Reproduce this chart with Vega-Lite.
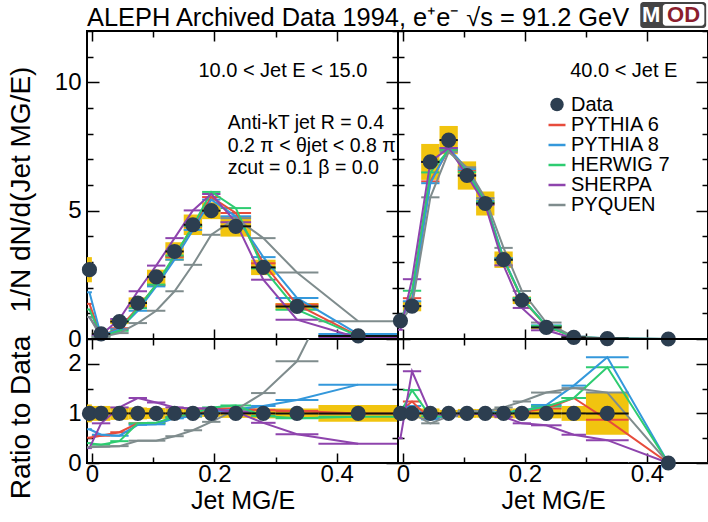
{
"$schema": "https://vega.github.io/schema/vega-lite/v6.json",
"padding": {"left": 6, "top": 0, "right": 0, "bottom": 0},
"config": {
  "view": {"stroke": "black", "strokeWidth": 2},
  "font": "Liberation Sans",
  "axis": {"labelFont": "Liberation Sans", "labelFontSize": 24, "labelColor": "black", "titleFont": "Liberation Sans", "titleFontSize": 28, "titleFontWeight": "normal", "titleColor": "black", "tickColor": "black", "tickWidth": 1.5, "domain": false, "grid": false, "labelOverlap": false, "labelFlush": false, "format": "~g"},
  "legend": {"labelFont": "Liberation Sans", "labelColor": "black"}
},
"datasets": {
  "TL": [
    {"x": -0.004, "lo": -0.008, "hi": 0, "y": 2.70, "ylo": 2.21, "yhi": 3.19, "PYTHIA 6": 1.37, "PYTHIA 8": 1.82, "HERWIG 7": 1.15, "SHERPA": 0.85, "PYQUEN": 0.86},
    {"x": 0.015, "lo": 0, "hi": 0.03, "y": 0.20, "ylo": 0.16, "yhi": 0.24, "PYTHIA 6": 0.11, "PYTHIA 8": 0.12, "HERWIG 7": 0.08, "SHERPA": 0.16, "PYQUEN": 0.07},
    {"x": 0.045, "lo": 0.03, "hi": 0.06, "y": 0.68, "ylo": 0.58, "yhi": 0.78, "PYTHIA 6": 0.42, "PYTHIA 8": 0.38, "HERWIG 7": 0.32, "SHERPA": 0.78, "PYQUEN": 0.23},
    {"x": 0.075, "lo": 0.06, "hi": 0.09, "y": 1.40, "ylo": 1.18, "yhi": 1.62, "PYTHIA 6": 1.22, "PYTHIA 8": 1.10, "HERWIG 7": 1.20, "SHERPA": 1.86, "PYQUEN": 0.62},
    {"x": 0.105, "lo": 0.09, "hi": 0.12, "y": 2.42, "ylo": 2.14, "yhi": 2.70, "PYTHIA 6": 2.10, "PYTHIA 8": 2.05, "HERWIG 7": 2.12, "SHERPA": 2.86, "PYQUEN": 1.10},
    {"x": 0.135, "lo": 0.12, "hi": 0.15, "y": 3.41, "ylo": 3.05, "yhi": 3.77, "PYTHIA 6": 3.20, "PYTHIA 8": 3.09, "HERWIG 7": 3.25, "SHERPA": 3.93, "PYQUEN": 1.86},
    {"x": 0.165, "lo": 0.15, "hi": 0.18, "y": 4.45, "ylo": 4.05, "yhi": 4.85, "PYTHIA 6": 4.38, "PYTHIA 8": 4.25, "HERWIG 7": 4.40, "SHERPA": 5.01, "PYQUEN": 2.89},
    {"x": 0.195, "lo": 0.18, "hi": 0.21, "y": 5.00, "ylo": 4.67, "yhi": 5.33, "PYTHIA 6": 5.53, "PYTHIA 8": 5.43, "HERWIG 7": 5.73, "SHERPA": 5.65, "PYQUEN": 4.06},
    {"x": 0.235, "lo": 0.21, "hi": 0.26, "y": 4.39, "ylo": 3.99, "yhi": 4.79, "PYTHIA 6": 4.91, "PYTHIA 8": 4.78, "HERWIG 7": 5.10, "SHERPA": 4.55, "PYQUEN": 4.71},
    {"x": 0.28, "lo": 0.26, "hi": 0.30, "y": 2.79, "ylo": 2.49, "yhi": 3.09, "PYTHIA 6": 2.95, "PYTHIA 8": 3.19, "HERWIG 7": 2.75, "SHERPA": 2.31, "PYQUEN": 3.93},
    {"x": 0.335, "lo": 0.30, "hi": 0.37, "y": 1.27, "ylo": 1.14, "yhi": 1.40, "PYTHIA 6": 1.34, "PYTHIA 8": 1.60, "HERWIG 7": 1.14, "SHERPA": 0.75, "PYQUEN": 2.59},
    {"x": 0.435, "lo": 0.37, "hi": 0.50, "y": 0.12, "ylo": 0.09, "yhi": 0.15, "PYTHIA 6": 0.12, "PYTHIA 8": 0.19, "HERWIG 7": 0.11, "SHERPA": 0.05, "PYQUEN": 0.69}
  ],
  "BL": [
    {"x": -0.004, "lo": -0.008, "hi": 0, "y": 1, "ylo": 0.82, "yhi": 1.18, "PYTHIA 6": 0.51, "PYTHIA 8": 0.68, "HERWIG 7": 0.40, "SHERPA": 0.30, "PYQUEN": 0.32},
    {"x": 0.015, "lo": 0, "hi": 0.03, "y": 1, "ylo": 0.85, "yhi": 1.15, "PYTHIA 6": 0.55, "PYTHIA 8": 0.57, "HERWIG 7": 0.37, "SHERPA": 0.80, "PYQUEN": 0.33},
    {"x": 0.045, "lo": 0.03, "hi": 0.06, "y": 1, "ylo": 0.87, "yhi": 1.13, "PYTHIA 6": 0.62, "PYTHIA 8": 0.55, "HERWIG 7": 0.44, "SHERPA": 1.12, "PYQUEN": 0.34},
    {"x": 0.075, "lo": 0.06, "hi": 0.09, "y": 1, "ylo": 0.88, "yhi": 1.12, "PYTHIA 6": 0.80, "PYTHIA 8": 0.77, "HERWIG 7": 0.80, "SHERPA": 1.31, "PYQUEN": 0.45},
    {"x": 0.105, "lo": 0.09, "hi": 0.12, "y": 1, "ylo": 0.89, "yhi": 1.11, "PYTHIA 6": 0.80, "PYTHIA 8": 0.78, "HERWIG 7": 0.81, "SHERPA": 1.22, "PYQUEN": 0.45},
    {"x": 0.135, "lo": 0.12, "hi": 0.15, "y": 1, "ylo": 0.90, "yhi": 1.10, "PYTHIA 6": 0.92, "PYTHIA 8": 0.90, "HERWIG 7": 0.93, "SHERPA": 1.12, "PYQUEN": 0.54},
    {"x": 0.165, "lo": 0.15, "hi": 0.18, "y": 1, "ylo": 0.91, "yhi": 1.09, "PYTHIA 6": 0.98, "PYTHIA 8": 0.94, "HERWIG 7": 0.99, "SHERPA": 1.10, "PYQUEN": 0.66},
    {"x": 0.195, "lo": 0.18, "hi": 0.21, "y": 1, "ylo": 0.93, "yhi": 1.07, "PYTHIA 6": 1.08, "PYTHIA 8": 1.04, "HERWIG 7": 1.12, "SHERPA": 1.10, "PYQUEN": 0.83},
    {"x": 0.235, "lo": 0.21, "hi": 0.26, "y": 1, "ylo": 0.91, "yhi": 1.09, "PYTHIA 6": 1.10, "PYTHIA 8": 1.08, "HERWIG 7": 1.16, "SHERPA": 1.03, "PYQUEN": 1.07},
    {"x": 0.28, "lo": 0.26, "hi": 0.30, "y": 1, "ylo": 0.90, "yhi": 1.10, "PYTHIA 6": 1.07, "PYTHIA 8": 1.15, "HERWIG 7": 0.95, "SHERPA": 0.81, "PYQUEN": 1.41},
    {"x": 0.335, "lo": 0.30, "hi": 0.37, "y": 1, "ylo": 0.90, "yhi": 1.10, "PYTHIA 6": 1.05, "PYTHIA 8": 1.27, "HERWIG 7": 0.90, "SHERPA": 0.58, "PYQUEN": 2.05},
    {"x": 0.435, "lo": 0.37, "hi": 0.50, "y": 1, "ylo": 0.83, "yhi": 1.17, "PYTHIA 6": 1.00, "PYTHIA 8": 1.58, "HERWIG 7": 0.93, "SHERPA": 0.39, "PYQUEN": 4.5}
  ],
  "TR": [
    {"x": -0.004, "lo": -0.008, "hi": 0, "y": 0.71, "ylo": 0.65, "yhi": 0.77, "PYTHIA 6": 0.75, "PYTHIA 8": 0.78, "HERWIG 7": 0.71, "SHERPA": 0.36, "PYQUEN": 0.67},
    {"x": 0.015, "lo": 0, "hi": 0.03, "y": 1.28, "ylo": 1.08, "yhi": 1.48, "PYTHIA 6": 1.59, "PYTHIA 8": 1.47, "HERWIG 7": 1.88, "SHERPA": 2.33, "PYQUEN": 1.28},
    {"x": 0.045, "lo": 0.03, "hi": 0.06, "y": 6.90, "ylo": 6.20, "yhi": 7.60, "PYTHIA 6": 6.14, "PYTHIA 8": 6.07, "HERWIG 7": 6.49, "SHERPA": 6.90, "PYQUEN": 5.52},
    {"x": 0.075, "lo": 0.06, "hi": 0.09, "y": 7.75, "ylo": 7.20, "yhi": 8.30, "PYTHIA 6": 7.36, "PYTHIA 8": 7.44, "HERWIG 7": 7.36, "SHERPA": 7.44, "PYQUEN": 7.29},
    {"x": 0.105, "lo": 0.09, "hi": 0.12, "y": 6.37, "ylo": 5.82, "yhi": 6.92, "PYTHIA 6": 6.56, "PYTHIA 8": 6.62, "HERWIG 7": 6.50, "SHERPA": 6.37, "PYQUEN": 6.69},
    {"x": 0.135, "lo": 0.12, "hi": 0.15, "y": 5.28, "ylo": 4.81, "yhi": 5.75, "PYTHIA 6": 5.28, "PYTHIA 8": 5.39, "HERWIG 7": 5.33, "SHERPA": 5.23, "PYQUEN": 5.49},
    {"x": 0.165, "lo": 0.15, "hi": 0.18, "y": 3.09, "ylo": 2.77, "yhi": 3.41, "PYTHIA 6": 3.09, "PYTHIA 8": 3.15, "HERWIG 7": 3.09, "SHERPA": 2.87, "PYQUEN": 3.55},
    {"x": 0.195, "lo": 0.18, "hi": 0.21, "y": 1.51, "ylo": 1.36, "yhi": 1.66, "PYTHIA 6": 1.56, "PYTHIA 8": 1.59, "HERWIG 7": 1.59, "SHERPA": 1.21, "PYQUEN": 1.87},
    {"x": 0.235, "lo": 0.21, "hi": 0.26, "y": 0.45, "ylo": 0.40, "yhi": 0.50, "PYTHIA 6": 0.50, "PYTHIA 8": 0.53, "HERWIG 7": 0.51, "SHERPA": 0.34, "PYQUEN": 0.64},
    {"x": 0.28, "lo": 0.26, "hi": 0.30, "y": 0.06, "ylo": 0.05, "yhi": 0.07, "PYTHIA 6": 0.08, "PYTHIA 8": 0.09, "HERWIG 7": 0.08, "SHERPA": 0.03, "PYQUEN": 0.09},
    {"x": 0.335, "lo": 0.30, "hi": 0.37, "y": 0.015, "ylo": 0.008, "yhi": 0.022, "PYTHIA 6": 0.013, "PYTHIA 8": 0.03, "HERWIG 7": 0.03, "SHERPA": 0.007, "PYQUEN": 0.02},
    {"x": 0.435, "lo": 0.37, "hi": 0.50, "y": 0.0, "ylo": 0.0, "yhi": 0.0, "PYTHIA 6": 0, "PYTHIA 8": 0, "HERWIG 7": 0, "SHERPA": 0, "PYQUEN": 0}
  ],
  "BR": [
    {"x": -0.004, "lo": -0.008, "hi": 0, "y": 1, "ylo": 0.92, "yhi": 1.08, "PYTHIA 6": 1.05, "PYTHIA 8": 1.10, "HERWIG 7": 1.00, "SHERPA": 0.50, "PYQUEN": 0.95},
    {"x": 0.015, "lo": 0, "hi": 0.03, "y": 1, "ylo": 0.90, "yhi": 1.10, "PYTHIA 6": 1.24, "PYTHIA 8": 1.15, "HERWIG 7": 1.47, "SHERPA": 1.85, "PYQUEN": 1.00},
    {"x": 0.045, "lo": 0.03, "hi": 0.06, "y": 1, "ylo": 0.90, "yhi": 1.10, "PYTHIA 6": 0.89, "PYTHIA 8": 0.88, "HERWIG 7": 0.94, "SHERPA": 1.00, "PYQUEN": 0.80},
    {"x": 0.075, "lo": 0.06, "hi": 0.09, "y": 1, "ylo": 0.93, "yhi": 1.07, "PYTHIA 6": 0.95, "PYTHIA 8": 0.96, "HERWIG 7": 0.95, "SHERPA": 0.96, "PYQUEN": 0.94},
    {"x": 0.105, "lo": 0.09, "hi": 0.12, "y": 1, "ylo": 0.91, "yhi": 1.09, "PYTHIA 6": 1.03, "PYTHIA 8": 1.04, "HERWIG 7": 1.02, "SHERPA": 1.00, "PYQUEN": 1.05},
    {"x": 0.135, "lo": 0.12, "hi": 0.15, "y": 1, "ylo": 0.91, "yhi": 1.09, "PYTHIA 6": 1.00, "PYTHIA 8": 1.02, "HERWIG 7": 1.01, "SHERPA": 0.99, "PYQUEN": 1.04},
    {"x": 0.165, "lo": 0.15, "hi": 0.18, "y": 1, "ylo": 0.90, "yhi": 1.10, "PYTHIA 6": 1.00, "PYTHIA 8": 1.02, "HERWIG 7": 1.00, "SHERPA": 0.93, "PYQUEN": 1.12},
    {"x": 0.195, "lo": 0.18, "hi": 0.21, "y": 1, "ylo": 0.90, "yhi": 1.10, "PYTHIA 6": 1.03, "PYTHIA 8": 1.05, "HERWIG 7": 1.05, "SHERPA": 0.80, "PYQUEN": 1.24},
    {"x": 0.235, "lo": 0.21, "hi": 0.26, "y": 1, "ylo": 0.90, "yhi": 1.10, "PYTHIA 6": 1.10, "PYTHIA 8": 1.17, "HERWIG 7": 1.14, "SHERPA": 0.76, "PYQUEN": 1.42},
    {"x": 0.28, "lo": 0.26, "hi": 0.30, "y": 1, "ylo": 0.85, "yhi": 1.15, "PYTHIA 6": 1.31, "PYTHIA 8": 1.56, "HERWIG 7": 1.31, "SHERPA": 0.57, "PYQUEN": 1.51},
    {"x": 0.335, "lo": 0.30, "hi": 0.37, "y": 1, "ylo": 0.57, "yhi": 1.43, "PYTHIA 6": 0.87, "PYTHIA 8": 2.13, "HERWIG 7": 1.93, "SHERPA": 0.46, "PYQUEN": 1.42},
    {"x": 0.435, "lo": 0.37, "hi": 0.50, "y": 0, "ylo": 0, "yhi": 0, "PYTHIA 6": 0, "PYTHIA 8": 0, "HERWIG 7": 0, "SHERPA": 0, "PYQUEN": 0}
  ]
},
"columns": 2,
"spacing": 0,
"bounds": "flush",
"resolve": {"scale": {"color": "independent", "shape": "independent"}, "legend": {"color": "independent", "shape": "independent"}},
"concat": [
  {
    "width": 311, "height": 308,
    "data": {"name": "TL"},
    "resolve": {"axis": {"x": "independent", "y": "independent"}},
    "layer": [
      {"mark": {"type": "rect", "color": "#f1c40f", "clip": true},
       "encoding": {
         "x": {"field": "lo", "type": "quantitative", "scale": {"domain": [-0.008, 0.5], "nice": false, "zero": false},
               "axis": {"orient": "bottom", "values": [0, 0.1, 0.2, 0.3, 0.4], "labels": false, "title": null, "tickSize": {"condition": {"test": "datum.value === 0 || datum.value === 0.2 || datum.value === 0.4", "value": -10}, "value": -6}}},
         "x2": {"field": "hi"},
         "y": {"field": "ylo", "type": "quantitative", "scale": {"domain": [0, 12], "nice": false, "zero": false},
               "axis": {"orient": "left", "values": [0,1,2,3,4,5,6,7,8,9,10,11,12], "labelExpr": "datum.value % 5 === 0 ? datum.label : ''", "title": "1/N dN/d(Jet MG/E)", "tickSize": {"condition": {"test": "datum.value % 5 === 0", "value": -12}, "value": -6}, "labelPadding": 18, "titleX": -66, "titleY": 158, "titleBaseline": "middle", "titleAngle": -90}},
         "y2": {"field": "yhi"}}},
      {"transform": [{"fold": ["PYTHIA 6", "PYTHIA 8", "HERWIG 7", "SHERPA", "PYQUEN"], "as": ["series", "val"]}],
       "mark": {"type": "rule", "strokeWidth": 2, "clip": true},
       "encoding": {
         "x": {"field": "lo", "type": "quantitative", "axis": {"orient": "top", "values": [0, 0.1, 0.2, 0.3, 0.4], "labels": false, "title": null, "tickSize": {"condition": {"test": "datum.value === 0 || datum.value === 0.2 || datum.value === 0.4", "value": -10}, "value": -6}}},
         "x2": {"field": "hi"},
         "y": {"field": "val", "type": "quantitative", "axis": {"orient": "right", "values": [0,1,2,3,4,5,6,7,8,9,10,11,12], "labels": false, "title": null, "tickSize": {"condition": {"test": "datum.value % 5 === 0", "value": -12}, "value": -6}}},
         "color": {"field": "series", "type": "nominal", "scale": {"domain": ["PYTHIA 6", "PYTHIA 8", "HERWIG 7", "SHERPA", "PYQUEN"], "range": ["#e74c3c", "#3498db", "#2ecc71", "#8e44ad", "#7f8c8d"]}, "legend": null}}},
      {"transform": [{"fold": ["PYTHIA 6", "PYTHIA 8", "HERWIG 7", "SHERPA", "PYQUEN"], "as": ["series", "val"]}],
       "mark": {"type": "line", "strokeWidth": 2, "clip": true},
       "encoding": {
         "x": {"field": "x", "type": "quantitative", "axis": null},
         "y": {"field": "val", "type": "quantitative", "axis": null},
         "color": {"field": "series", "type": "nominal", "legend": null}}},
      {"mark": {"type": "rule", "color": "#111111", "strokeWidth": 2, "clip": true},
       "encoding": {"x": {"field": "lo", "type": "quantitative", "axis": null}, "x2": {"field": "hi"}, "y": {"field": "y", "type": "quantitative", "axis": null}}},
      {"mark": {"type": "point", "filled": true, "color": "#2c3e50", "opacity": 1, "size": 230},
       "encoding": {"x": {"field": "x", "type": "quantitative", "axis": null}, "y": {"field": "y", "type": "quantitative", "axis": null}}},
      {"data": {"values": [{}]},
       "mark": {"type": "text", "text": "10.0 < Jet E < 15.0", "fontSize": 20, "align": "center", "baseline": "middle", "color": "black"},
       "encoding": {"x": {"datum": 0.312, "type": "quantitative", "axis": null}, "y": {"datum": 10.43, "type": "quantitative", "axis": null}}},
      {"data": {"values": [{}]},
       "mark": {"type": "text", "text": ["Anti-kT jet R = 0.4", "0.2 π < θjet < 0.8 π", "zcut = 0.1 β = 0.0"], "lineHeight": 22.5, "fontSize": 19.5, "align": "left", "baseline": "top", "color": "black"},
       "encoding": {"x": {"datum": 0.222, "type": "quantitative", "axis": null}, "y": {"datum": 8.75, "type": "quantitative", "axis": null}}},
      {"data": {"values": [{}]},
       "mark": {"type": "text", "text": "ALEPH Archived Data 1994, e⁺e⁻ √s = 91.2 GeV", "fontSize": 25.4, "align": "left", "baseline": "alphabetic", "color": "black"},
       "encoding": {"x": {"datum": -0.008, "type": "quantitative", "axis": null}, "y": {"datum": 12.19, "type": "quantitative", "axis": null}}}
    ]
  },
  {
    "width": 310, "height": 308,
    "data": {"name": "TR"},
    "resolve": {"axis": {"x": "independent", "y": "independent"}},
    "layer": [
      {"mark": {"type": "rect", "color": "#f1c40f", "clip": true},
       "encoding": {
         "x": {"field": "lo", "type": "quantitative", "scale": {"domain": [-0.008, 0.5], "nice": false, "zero": false},
               "axis": {"orient": "bottom", "values": [0, 0.1, 0.2, 0.3, 0.4], "labels": false, "title": null, "tickSize": {"condition": {"test": "datum.value === 0 || datum.value === 0.2 || datum.value === 0.4", "value": -10}, "value": -6}}},
         "x2": {"field": "hi"},
         "y": {"field": "ylo", "type": "quantitative", "scale": {"domain": [0, 12], "nice": false, "zero": false},
               "axis": {"orient": "left", "values": [0,1,2,3,4,5,6,7,8,9,10,11,12], "labels": false, "title": null, "tickSize": {"condition": {"test": "datum.value % 5 === 0", "value": -12}, "value": -6}}},
         "y2": {"field": "yhi"}}},
      {"transform": [{"fold": ["PYTHIA 6", "PYTHIA 8", "HERWIG 7", "SHERPA", "PYQUEN"], "as": ["series", "val"]}],
       "mark": {"type": "rule", "strokeWidth": 2, "clip": true},
       "encoding": {
         "x": {"field": "lo", "type": "quantitative", "axis": {"orient": "top", "values": [0, 0.1, 0.2, 0.3, 0.4], "labels": false, "title": null, "tickSize": {"condition": {"test": "datum.value === 0 || datum.value === 0.2 || datum.value === 0.4", "value": -10}, "value": -6}}},
         "x2": {"field": "hi"},
         "y": {"field": "val", "type": "quantitative", "axis": {"orient": "right", "values": [0,1,2,3,4,5,6,7,8,9,10,11,12], "labels": false, "title": null, "tickSize": {"condition": {"test": "datum.value % 5 === 0", "value": -12}, "value": -6}}},
         "color": {"field": "series", "type": "nominal", "scale": {"domain": ["PYTHIA 6", "PYTHIA 8", "HERWIG 7", "SHERPA", "PYQUEN"], "range": ["#e74c3c", "#3498db", "#2ecc71", "#8e44ad", "#7f8c8d"]},
                   "legend": {"orient": "none", "legendX": 149, "legendY": 84, "title": null, "symbolType": "stroke", "symbolStrokeWidth": 2.5, "symbolSize": 289, "labelFontSize": 20, "labelOffset": 4, "rowPadding": 0, "labelColor": "black"}}}},
      {"transform": [{"fold": ["PYTHIA 6", "PYTHIA 8", "HERWIG 7", "SHERPA", "PYQUEN"], "as": ["series", "val"]}],
       "mark": {"type": "line", "strokeWidth": 2, "clip": true},
       "encoding": {
         "x": {"field": "x", "type": "quantitative", "axis": null},
         "y": {"field": "val", "type": "quantitative", "axis": null},
         "color": {"field": "series", "type": "nominal"}}},
      {"mark": {"type": "rule", "color": "#111111", "strokeWidth": 2, "clip": true},
       "encoding": {"x": {"field": "lo", "type": "quantitative", "axis": null}, "x2": {"field": "hi"}, "y": {"field": "y", "type": "quantitative", "axis": null}}},
      {"mark": {"type": "point", "filled": true, "color": "#2c3e50", "opacity": 1, "size": 230},
       "encoding": {"x": {"field": "x", "type": "quantitative", "axis": null}, "y": {"field": "y", "type": "quantitative", "axis": null},
         "shape": {"datum": "Data", "type": "nominal", "scale": {"range": ["circle"]},
                   "legend": {"orient": "none", "legendX": 149, "legendY": 63.5, "title": null, "symbolFillColor": "#2c3e50", "symbolStrokeColor": "#f1c40f", "symbolStrokeWidth": 3, "symbolSize": 180, "labelFontSize": 20, "labelOffset": 4, "labelColor": "black"}}}},
      {"data": {"values": [{}]},
       "mark": {"type": "text", "text": "40.0 < Jet E", "fontSize": 20, "align": "center", "baseline": "middle", "color": "black"},
       "encoding": {"x": {"datum": 0.362, "type": "quantitative", "axis": null}, "y": {"datum": 10.43, "type": "quantitative", "axis": null}}},
      {"data": {"values": [{}]},
       "mark": {"type": "rect", "color": "#444444", "cornerRadius": 3},
       "encoding": {"x": {"datum": 0.389, "type": "quantitative", "axis": null}, "x2": {"datum": 0.497}, "y": {"datum": 12.12, "type": "quantitative", "axis": null}, "y2": {"datum": 13.13}}},
      {"data": {"values": [{}]},
       "mark": {"type": "rect", "color": "white", "cornerRadius": 3},
       "encoding": {"x": {"datum": 0.426, "type": "quantitative", "axis": null}, "x2": {"datum": 0.494}, "y": {"datum": 12.2, "type": "quantitative", "axis": null}, "y2": {"datum": 13.05}}},
      {"data": {"values": [{}]},
       "mark": {"type": "text", "text": "M", "fontSize": 22, "fontWeight": "bold", "align": "center", "baseline": "middle", "color": "white"},
       "encoding": {"x": {"datum": 0.407, "type": "quantitative", "axis": null}, "y": {"datum": 12.62, "type": "quantitative", "axis": null}}},
      {"data": {"values": [{}]},
       "mark": {"type": "text", "text": "OD", "fontSize": 22, "fontWeight": "bold", "align": "center", "baseline": "middle", "color": "#8b1e2e"},
       "encoding": {"x": {"datum": 0.460, "type": "quantitative", "axis": null}, "y": {"datum": 12.62, "type": "quantitative", "axis": null}}}
    ]
  },
  {
    "width": 311, "height": 124,
    "data": {"name": "BL"},
    "resolve": {"axis": {"x": "independent", "y": "independent"}},
    "layer": [
      {"mark": {"type": "rect", "color": "#f1c40f", "clip": true},
       "encoding": {
         "x": {"field": "lo", "type": "quantitative", "scale": {"domain": [-0.008, 0.5], "nice": false, "zero": false},
               "axis": {"orient": "bottom", "values": [0, 0.1, 0.2, 0.3, 0.4], "labelExpr": "datum.value === 0.1 || datum.value === 0.3 ? '' : datum.label", "title": "Jet MG/E", "titleFontSize": 25, "titleX": 155.5, "titleY": 45, "titleBaseline": "alphabetic", "labelPadding": 9, "tickSize": {"condition": {"test": "datum.value === 0 || datum.value === 0.2 || datum.value === 0.4", "value": -10}, "value": -6}}},
         "x2": {"field": "hi"},
         "y": {"field": "ylo", "type": "quantitative", "scale": {"domain": [0, 2.5], "nice": false, "zero": false},
               "axis": {"orient": "left", "values": [0, 0.5, 1, 1.5, 2], "labelExpr": "datum.value % 1 === 0 ? datum.label : ''", "title": "Ratio to Data", "tickSize": {"condition": {"test": "datum.value % 1 === 0", "value": -12}, "value": -6}, "labelPadding": 18, "titleX": -66, "titleY": 78, "titleBaseline": "middle", "titleAngle": -90}},
         "y2": {"field": "yhi"}}},
      {"transform": [{"fold": ["PYTHIA 6", "PYTHIA 8", "HERWIG 7", "SHERPA", "PYQUEN"], "as": ["series", "val"]}],
       "mark": {"type": "rule", "strokeWidth": 2, "clip": true},
       "encoding": {
         "x": {"field": "lo", "type": "quantitative", "axis": {"orient": "top", "values": [0, 0.1, 0.2, 0.3, 0.4], "labels": false, "title": null, "tickSize": {"condition": {"test": "datum.value === 0 || datum.value === 0.2 || datum.value === 0.4", "value": -10}, "value": -6}}},
         "x2": {"field": "hi"},
         "y": {"field": "val", "type": "quantitative", "axis": {"orient": "right", "values": [0, 0.5, 1, 1.5, 2], "labels": false, "title": null, "tickSize": {"condition": {"test": "datum.value % 1 === 0", "value": -12}, "value": -6}}},
         "color": {"field": "series", "type": "nominal", "scale": {"domain": ["PYTHIA 6", "PYTHIA 8", "HERWIG 7", "SHERPA", "PYQUEN"], "range": ["#e74c3c", "#3498db", "#2ecc71", "#8e44ad", "#7f8c8d"]}, "legend": null}}},
      {"transform": [{"fold": ["PYTHIA 6", "PYTHIA 8", "HERWIG 7", "SHERPA", "PYQUEN"], "as": ["series", "val"]}],
       "mark": {"type": "line", "strokeWidth": 2, "clip": true},
       "encoding": {
         "x": {"field": "x", "type": "quantitative", "axis": null},
         "y": {"field": "val", "type": "quantitative", "axis": null},
         "color": {"field": "series", "type": "nominal", "legend": null}}},
      {"mark": {"type": "rule", "color": "#111111", "strokeWidth": 2, "clip": true},
       "encoding": {"x": {"field": "lo", "type": "quantitative", "axis": null}, "x2": {"field": "hi"}, "y": {"field": "y", "type": "quantitative", "axis": null}}},
      {"mark": {"type": "point", "filled": true, "color": "#2c3e50", "opacity": 1, "size": 230},
       "encoding": {"x": {"field": "x", "type": "quantitative", "axis": null}, "y": {"field": "y", "type": "quantitative", "axis": null}}}
    ]
  },
  {
    "width": 310, "height": 124,
    "data": {"name": "BR"},
    "resolve": {"axis": {"x": "independent", "y": "independent"}},
    "layer": [
      {"mark": {"type": "rect", "color": "#f1c40f", "clip": true},
       "encoding": {
         "x": {"field": "lo", "type": "quantitative", "scale": {"domain": [-0.008, 0.5], "nice": false, "zero": false},
               "axis": {"orient": "bottom", "values": [0, 0.1, 0.2, 0.3, 0.4], "labelExpr": "datum.value === 0.1 || datum.value === 0.3 ? '' : datum.label", "title": "Jet MG/E", "titleFontSize": 25, "titleX": 155, "titleY": 45, "titleBaseline": "alphabetic", "labelPadding": 9, "tickSize": {"condition": {"test": "datum.value === 0 || datum.value === 0.2 || datum.value === 0.4", "value": -10}, "value": -6}}},
         "x2": {"field": "hi"},
         "y": {"field": "ylo", "type": "quantitative", "scale": {"domain": [0, 2.5], "nice": false, "zero": false},
               "axis": {"orient": "left", "values": [0, 0.5, 1, 1.5, 2], "labels": false, "title": null, "tickSize": {"condition": {"test": "datum.value % 1 === 0", "value": -12}, "value": -6}}},
         "y2": {"field": "yhi"}}},
      {"transform": [{"fold": ["PYTHIA 6", "PYTHIA 8", "HERWIG 7", "SHERPA", "PYQUEN"], "as": ["series", "val"]}],
       "mark": {"type": "rule", "strokeWidth": 2, "clip": true},
       "encoding": {
         "x": {"field": "lo", "type": "quantitative", "axis": {"orient": "top", "values": [0, 0.1, 0.2, 0.3, 0.4], "labels": false, "title": null, "tickSize": {"condition": {"test": "datum.value === 0 || datum.value === 0.2 || datum.value === 0.4", "value": -10}, "value": -6}}},
         "x2": {"field": "hi"},
         "y": {"field": "val", "type": "quantitative", "axis": {"orient": "right", "values": [0, 0.5, 1, 1.5, 2], "labels": false, "title": null, "tickSize": {"condition": {"test": "datum.value % 1 === 0", "value": -12}, "value": -6}}},
         "color": {"field": "series", "type": "nominal", "scale": {"domain": ["PYTHIA 6", "PYTHIA 8", "HERWIG 7", "SHERPA", "PYQUEN"], "range": ["#e74c3c", "#3498db", "#2ecc71", "#8e44ad", "#7f8c8d"]}, "legend": null}}},
      {"transform": [{"fold": ["PYTHIA 6", "PYTHIA 8", "HERWIG 7", "SHERPA", "PYQUEN"], "as": ["series", "val"]}],
       "mark": {"type": "line", "strokeWidth": 2, "clip": true},
       "encoding": {
         "x": {"field": "x", "type": "quantitative", "axis": null},
         "y": {"field": "val", "type": "quantitative", "axis": null},
         "color": {"field": "series", "type": "nominal", "legend": null}}},
      {"mark": {"type": "rule", "color": "#111111", "strokeWidth": 2, "clip": true},
       "encoding": {"x": {"field": "lo", "type": "quantitative", "axis": null}, "x2": {"field": "hi"}, "y": {"field": "y", "type": "quantitative", "axis": null}}},
      {"mark": {"type": "point", "filled": true, "color": "#2c3e50", "opacity": 1, "size": 230},
       "encoding": {"x": {"field": "x", "type": "quantitative", "axis": null}, "y": {"field": "y", "type": "quantitative", "axis": null}}}
    ]
  }
]
}
